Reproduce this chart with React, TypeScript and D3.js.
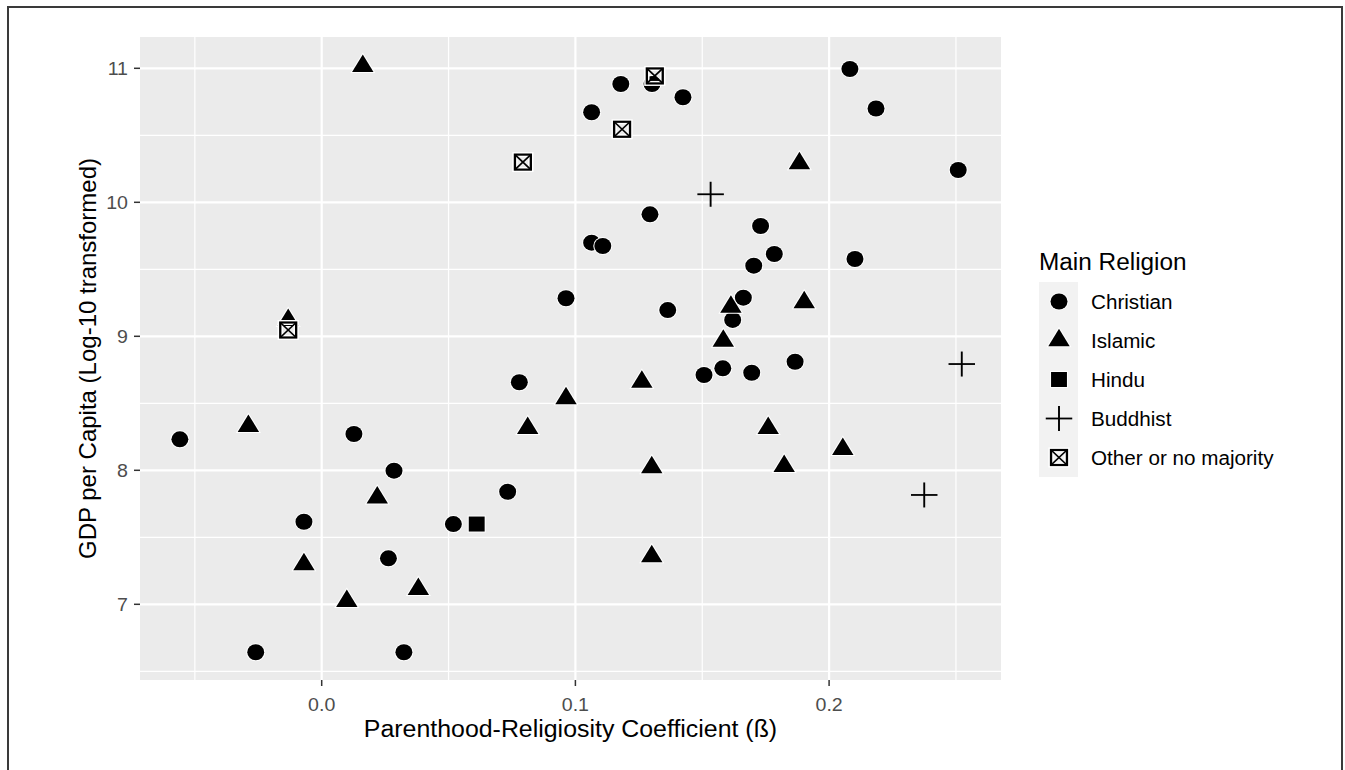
import { scaleLinear, symbol, symbolCircle, symbolTriangle, symbolSquare } from 'd3';

// values: [coefficient, log GDP per capita]
const christian: [number, number][] = [
  [-0.0559, 8.231], [0.0127, 8.271], [0.0285, 7.997], [-0.007, 7.616], [0.0519, 7.599],
  [0.0263, 7.343], [-0.026, 6.642], [0.0324, 6.642], [0.2082, 10.995], [0.2185, 10.7],
  [0.1179, 10.883], [0.1302, 10.883], [0.1424, 10.784], [0.1064, 10.672], [0.1294, 9.91],
  [0.173, 9.823], [0.1064, 9.699], [0.1108, 9.674], [0.1784, 9.614], [0.1703, 9.527],
  [0.2102, 9.577], [0.0963, 9.284], [0.1662, 9.288], [0.1364, 9.196], [0.162, 9.122],
  [0.1866, 8.81], [0.1581, 8.761], [0.1695, 8.728], [0.1507, 8.711], [0.0779, 8.657],
  [0.0733, 7.84], [0.2509, 10.241],
];
const islamic: [number, number][] = [
  [0.0162, 11.016], [-0.0132, 9.12], [-0.0289, 8.33], [0.0219, 7.795], [-0.007, 7.298],
  [0.0381, 7.113], [0.0099, 7.024], [0.1883, 10.29], [0.1613, 9.219], [0.1902, 9.252],
  [0.1583, 8.965], [0.1262, 8.659], [0.0963, 8.537], [0.0812, 8.314], [0.176, 8.314],
  [0.2054, 8.157], [0.1301, 8.021], [0.1823, 8.031], [0.1301, 7.357],
];
const hindu: [number, number][] = [[0.0611, 7.599]];
const buddhist: [number, number][] = [[0.1533, 10.06], [0.2523, 8.793], [0.2375, 7.816]];
const other: [number, number][] = [[-0.0132, 9.047], [0.1313, 10.943], [0.1184, 10.545], [0.0793, 10.3]];

const religions = ['Christian', 'Islamic', 'Hindu', 'Buddhist', 'Other or no majority'];
const shapes = ['circle', 'triangle', 'square', 'plus', 'boxX'];
const series = [christian, islamic, hindu, buddhist, other];

const xTicks = [0, 0.1, 0.2];
const xTickLabels = ['0.0', '0.1', '0.2'];
const xMinor = [-0.05, 0.05, 0.15, 0.25];
const yTicks = [7, 8, 9, 10, 11];
const yMinor = [6.5, 7.5, 8.5, 9.5, 10.5];

const width = 1345;
const height = 770;
const panel = { left: 140, right: 1001, top: 37, bottom: 680 };
const stretch = 1.06;
const font = '"Liberation Sans", Arial, Helvetica, sans-serif';

const xScale = scaleLinear().domain([-0.07162, 0.26776]).range([panel.left, panel.right]);
const yScale = scaleLinear().domain([6.4351, 11.2336]).range([panel.bottom, panel.top]);

const circlePath = symbol().type(symbolCircle).size(201)() ?? '';
const trianglePath = symbol().type(symbolTriangle).size(177)() ?? '';
const squarePath = symbol().type(symbolSquare).size(225)() ?? '';

function Marker({ shape, x, y }: { shape: string; x: number; y: number }) {
  const t = `translate(${x},${y}) scale(${stretch},1)`;
  if (shape === 'circle' || shape === 'triangle' || shape === 'square') {
    const d = shape === 'circle' ? circlePath : shape === 'triangle' ? trianglePath : squarePath;
    return <path d={d} transform={t} fill="#000" stroke="#fff" strokeWidth={2} paintOrder="stroke" />;
  }
  if (shape === 'plus') {
    return (
      <g transform={t} stroke="#000" strokeWidth={1.8}>
        <line x1={-12.5} x2={12.5} y1={0} y2={0} />
        <line x1={0} x2={0} y1={-12.5} y2={12.5} />
      </g>
    );
  }
  return (
    <g transform={t}>
      <rect x={-7.5} y={-7.5} width={15} height={15} fill="none" stroke="#fff" strokeWidth={5} />
      <rect x={-7.5} y={-7.5} width={15} height={15} fill="none" stroke="#000" strokeWidth={2.2} />
      <line x1={-7.5} y1={-7.5} x2={7.5} y2={7.5} stroke="#000" strokeWidth={1.6} />
      <line x1={-7.5} y1={7.5} x2={7.5} y2={-7.5} stroke="#000" strokeWidth={1.6} />
    </g>
  );
}

function StretchText({ x, y, size, anchor, fill, children, rotate }: {
  x: number; y: number; size: number; anchor: 'start' | 'middle' | 'end'; fill: string; children: string; rotate?: boolean;
}) {
  const t = rotate ? `translate(${x},${y}) rotate(-90)` : `translate(${x},${y}) scale(${stretch},1)`;
  return (
    <text transform={t} fontSize={size} textAnchor={anchor} fill={fill} fontFamily={font}>
      {children}
    </text>
  );
}

export default function App() {
  const legendX = 1039;
  const legendTop = 282;
  const keyH = 39;
  const panelMidX = (panel.left + panel.right) / 2;
  const panelMidY = (panel.top + panel.bottom) / 2;

  return (
    <svg width={width} height={height} style={{ position: 'absolute', left: 0, top: 0, background: '#fff' }}>
      <rect x={0} y={0} width={width} height={height} fill="#fff" />
      <rect x={8} y={7} width={1334} height={770} fill="none" stroke="#3a3a3a" strokeWidth={2} />

      <rect x={panel.left} y={panel.top} width={panel.right - panel.left} height={panel.bottom - panel.top} fill="#ebebeb" />
      {xMinor.map(v => (
        <line key={`xm${v}`} x1={xScale(v)} x2={xScale(v)} y1={panel.top} y2={panel.bottom} stroke="#fff" strokeWidth={1.2} />
      ))}
      {yMinor.map(v => (
        <line key={`ym${v}`} x1={panel.left} x2={panel.right} y1={yScale(v)} y2={yScale(v)} stroke="#fff" strokeWidth={1.2} />
      ))}
      {xTicks.map(v => (
        <line key={`x${v}`} x1={xScale(v)} x2={xScale(v)} y1={panel.top} y2={panel.bottom} stroke="#fff" strokeWidth={2.2} />
      ))}
      {yTicks.map(v => (
        <line key={`y${v}`} x1={panel.left} x2={panel.right} y1={yScale(v)} y2={yScale(v)} stroke="#fff" strokeWidth={2.2} />
      ))}

      {series.map((pts, i) =>
        pts.map(([vx, vy], j) => <Marker key={`${i}-${j}`} shape={shapes[i]} x={xScale(vx)} y={yScale(vy)} />)
      )}

      {/* axes */}
      {xTicks.map((v, i) => (
        <g key={`xt${v}`}>
          <line x1={xScale(v)} x2={xScale(v)} y1={panel.bottom} y2={panel.bottom + 6} stroke="#333" strokeWidth={1.5} />
          <StretchText x={xScale(v)} y={711} size={18.5} anchor="middle" fill="#4d4d4d">{xTickLabels[i]}</StretchText>
        </g>
      ))}
      {yTicks.map(v => (
        <g key={`yt${v}`}>
          <line x1={panel.left - 6} x2={panel.left} y1={yScale(v)} y2={yScale(v)} stroke="#333" strokeWidth={1.5} />
          <StretchText x={128} y={yScale(v) + 6.5} size={18.5} anchor="end" fill="#4d4d4d">{String(v)}</StretchText>
        </g>
      ))}
      <StretchText x={panelMidX} y={737} size={23.5} anchor="middle" fill="#000">Parenthood-Religiosity Coefficient (ß)</StretchText>
      <StretchText x={96} y={panelMidY} size={24} anchor="middle" fill="#000" rotate>GDP per Capita (Log-10 transformed)</StretchText>

      {/* legend */}
      <StretchText x={legendX} y={270} size={23} anchor="start" fill="#000">Main Religion</StretchText>
      <rect x={legendX} y={legendTop} width={39} height={keyH * religions.length} fill="#f2f2f2" />
      {religions.map((name, i) => {
        const cy = legendTop + keyH / 2 + i * keyH;
        return (
          <g key={name}>
            <Marker shape={shapes[i]} x={legendX + 20} y={cy} />
            <StretchText x={1091} y={cy + 7} size={19.5} anchor="start" fill="#000">{name}</StretchText>
          </g>
        );
      })}
    </svg>
  );
}
